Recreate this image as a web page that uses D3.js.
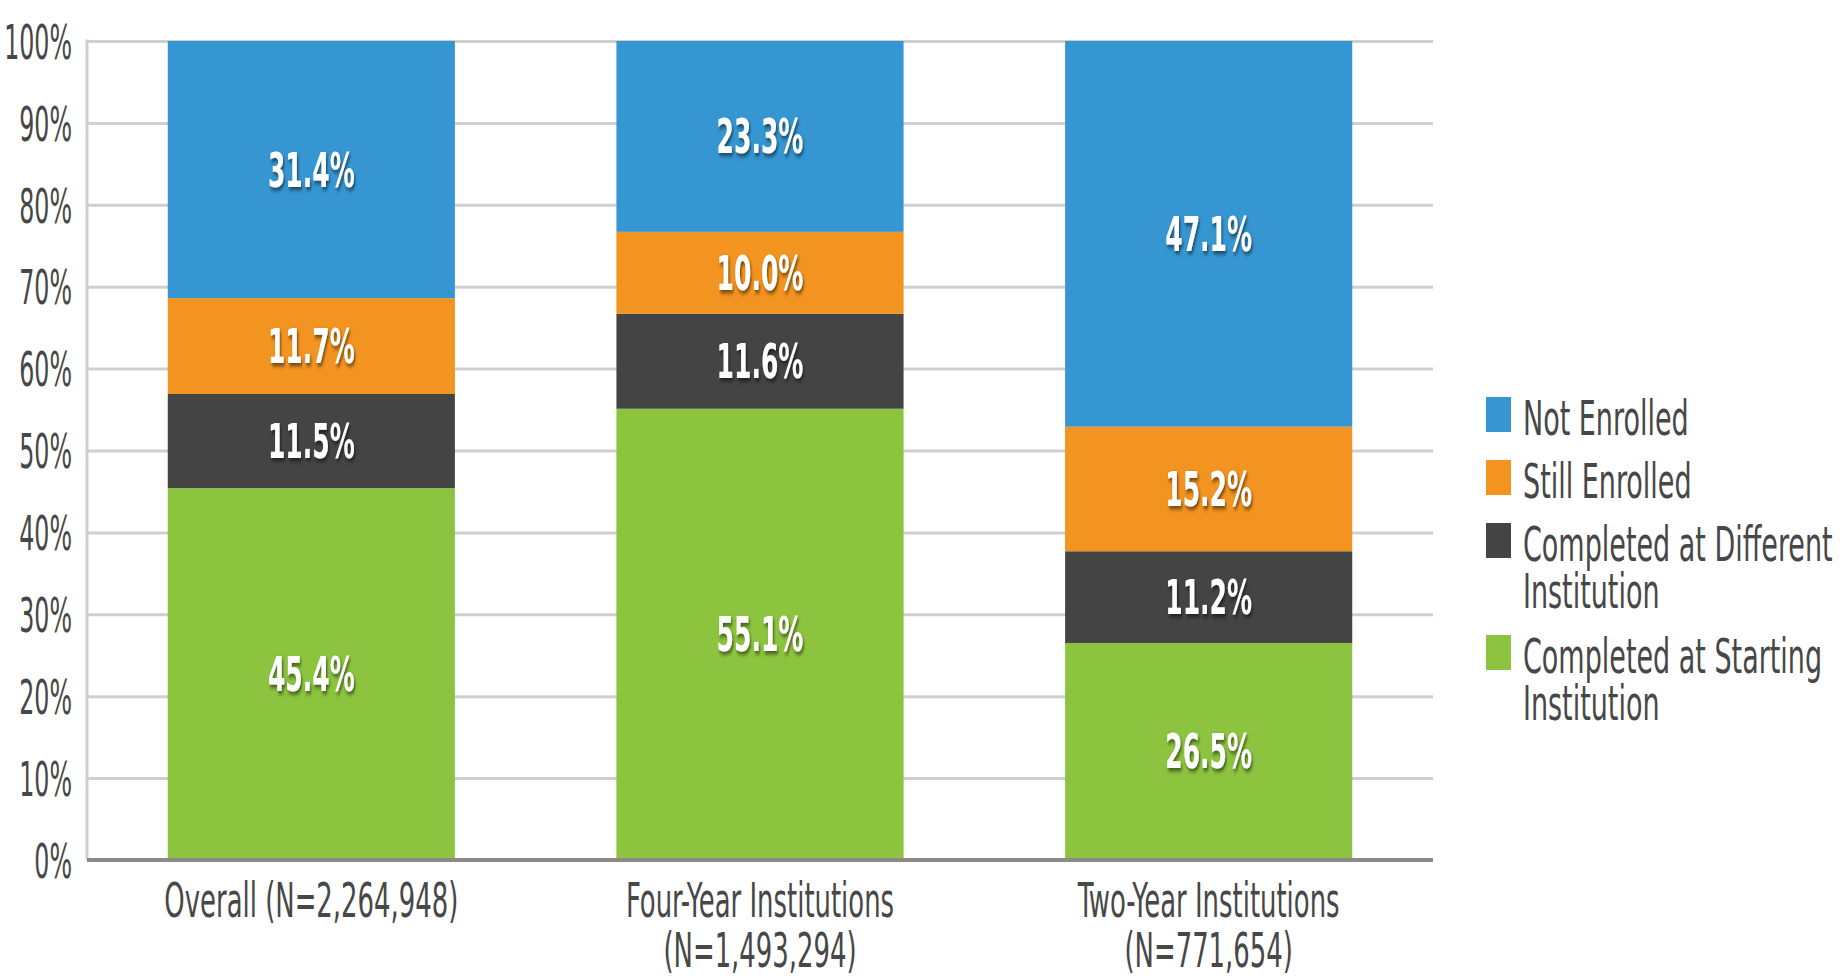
<!DOCTYPE html>
<html>
<head>
<meta charset="utf-8">
<script src="https://cdn.jsdelivr.net/npm/d3@7"></script>
<style>
  body { margin: 0; background: #fff; }
  text { font-family: "DejaVu Sans Condensed", "DejaVu Sans", sans-serif; }
</style>
</head>
<body>
<div id="chart"></div>
<script>
var categories = ['Overall', 'Four-Year', 'Two-Year']
var catLabels = [
  ['Overall (N=2,264,948)'],
  ['Four-Year Institutions', '(N=1,493,294)'],
  ['Two-Year Institutions', '(N=771,654)']
]
var seriesNames = ['Completed at Starting Institution', 'Completed at Different Institution', 'Still Enrolled', 'Not Enrolled']
var completedStarting = [45.4, 55.1, 26.5]
var completedDifferent = [11.5, 11.6, 11.2]
var stillEnrolled = [11.7, 10.0, 15.2]
var notEnrolled = [31.4, 23.3, 47.1]
var yTicks = [0, 10, 20, 30, 40, 50, 60, 70, 80, 90, 100]
var legendItems = [
  ['Not Enrolled'],
  ['Still Enrolled'],
  ['Completed at Different', 'Institution'],
  ['Completed at Starting', 'Institution']
]

var colors = ['#8cc43f', '#444444', '#f39320', '#3596d2']
var legendColors = ['#3596d2', '#f39320', '#444444', '#8cc43f']

;(function(){
  var W = 1845, H = 980
    , pl = 87, pr = 1433, pt = 41, pb = 860
    , fs = 48
    , textCol = '#474747'

  var rows = categories.map(function(c, i){
    return {cat: c, s0: completedStarting[i], s1: completedDifferent[i], s2: stillEnrolled[i], s3: notEnrolled[i]}
  })
  var stack = d3.stack().keys(['s0', 's1', 's2', 's3'])(rows)

  var svg = d3.select('#chart').append('svg').attr('width', W).attr('height', H)

  svg.append('defs').append('filter').attr('id', 'shadow')
    .attr('x', '-20%').attr('y', '-20%').attr('width', '140%').attr('height', '150%')
    .append('feDropShadow')
    .attr('dx', 2).attr('dy', 3).attr('stdDeviation', 2)
    .attr('flood-color', '#000').attr('flood-opacity', 0.55)

  var x = d3.scaleBand().domain(categories).range([pl, pr])
    .paddingInner(0.36).paddingOuter(0.18)
  var y = d3.scaleLinear().domain([0, 100]).range([pb, pt])

  // grid + y axis
  var yAxis = svg.append('g').attr('transform', 'translate(' + pl + ',0)')
    .call(d3.axisLeft(y).tickValues(yTicks).tickSize(-(pr - pl)).tickPadding(15)
      .tickFormat(function(d){ return d + '%' }))
  yAxis.select('.domain').remove()
  yAxis.selectAll('.tick line').attr('stroke', '#cfcfcf').attr('stroke-width', 3)
  yAxis.selectAll('.tick text')
    .attr('fill', textCol).attr('font-size', fs)
    .attr('x', 0).attr('dy', '0.36em')
    .attr('transform', 'translate(-15,0) scale(0.55,1)')

  svg.append('line')
    .attr('x1', pl).attr('x2', pl).attr('y1', pt - 1.5).attr('y2', pb)
    .attr('stroke', '#cfcfcf').attr('stroke-width', 3)

  // bars
  var layers = svg.append('g').selectAll('g').data(stack).enter().append('g')
    .attr('fill', function(d, i){ return colors[i] })

  layers.selectAll('rect').data(function(d){ return d }).enter().append('rect')
    .attr('x', function(d){ return x(d.data.cat) })
    .attr('width', x.bandwidth())
    .attr('y', function(d){ return y(d[1]) })
    .attr('height', function(d){ return y(d[0]) - y(d[1]) })

  // baseline
  svg.append('line')
    .attr('x1', pl).attr('x2', pr).attr('y1', pb).attr('y2', pb)
    .attr('stroke', '#8a8a8a').attr('stroke-width', 4)

  // value labels
  layers.selectAll('text').data(function(d){ return d }).enter().append('text')
    .attr('transform', function(d){
      return 'translate(' + (x(d.data.cat) + x.bandwidth() / 2) + ',' + (y((d[0] + d[1]) / 2) + 17) + ') scale(0.58,1)'
    })
    .attr('text-anchor', 'middle')
    .attr('font-size', fs).attr('font-weight', 'bold')
    .attr('fill', '#fff')
    .attr('filter', 'url(#shadow)')
    .text(function(d){ return (d[1] - d[0]).toFixed(1) + '%' })

  // category labels
  var xAxis = svg.append('g').attr('transform', 'translate(0,' + pb + ')')
    .call(d3.axisBottom(x).tickSize(0).tickFormat(''))
  xAxis.select('.domain').remove()
  xAxis.selectAll('.tick').each(function(d, i){
    var t = d3.select(this).append('text')
      .attr('text-anchor', 'middle').attr('font-size', fs).attr('fill', textCol)
      .attr('transform', 'translate(0,57) scale(0.6,1)')
    catLabels[i].forEach(function(line, j){
      t.append('tspan').attr('x', 0).attr('dy', j ? 50 : 0).text(line)
    })
  })

  // legend
  var ly = 397
  var legend = svg.append('g')
  legendItems.forEach(function(lines, i){
    var g = legend.append('g').attr('transform', 'translate(1486,' + ly + ')')
    g.append('rect').attr('width', 25).attr('height', 35).attr('fill', legendColors[i])
    var t = g.append('text').attr('font-size', fs).attr('fill', textCol)
      .attr('transform', 'translate(37,38) scale(0.625,1)')
    lines.forEach(function(line, j){
      t.append('tspan').attr('x', 0).attr('dy', j ? 47 : 0).text(line)
    })
    ly += 63 + (lines.length - 1) * 49
  })
})()
</script>
</body>
</html>
